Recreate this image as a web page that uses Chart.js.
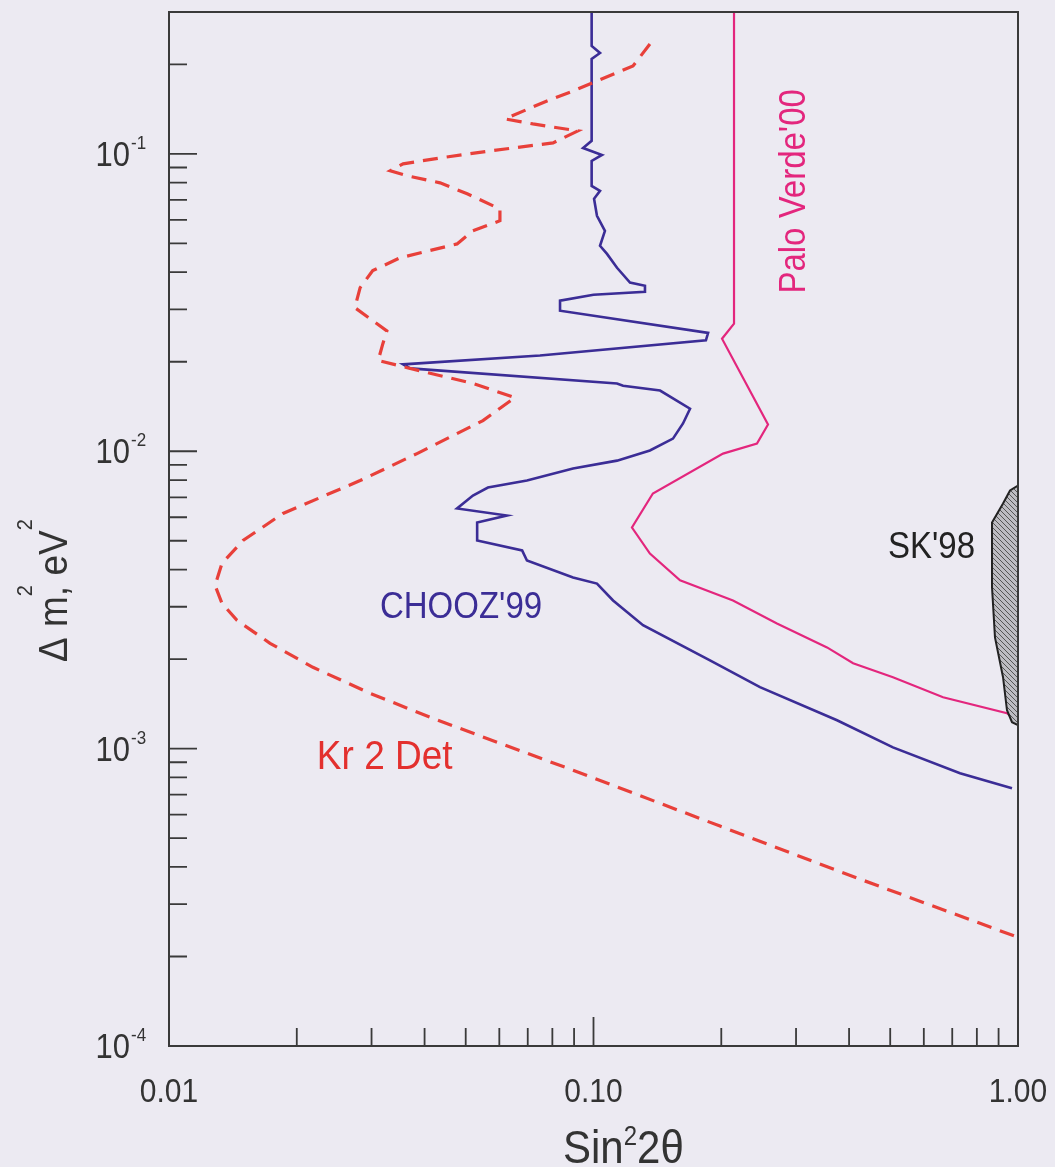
<!DOCTYPE html>
<html>
<head>
<meta charset="utf-8">
<script src="https://cdn.jsdelivr.net/npm/chart.js@4.4.0/dist/chart.umd.min.js"></script>
<style>
  html, body { margin: 0; padding: 0; background: #eceaf2; }
  #wrap { width: 1055px; height: 1167px; }
</style>
</head>
<body>
<div id="wrap"><canvas id="plot" width="1055" height="1167"></canvas></div>
<script>
// CHOOZ'99 exclusion contour (sin^2 2theta, dm^2)
const choozX = [0.099, 0.099, 0.1036, 0.099, 0.099, 0.0945, 0.1047, 0.099, 0.099, 0.1036,
  0.1003, 0.1019, 0.1064, 0.1036, 0.1076, 0.1136, 0.1219, 0.1322, 0.1322, 0.100,
  0.0834, 0.0834, 0.1862, 0.184, 0.0748, 0.0356, 0.037, 0.1136, 0.1174, 0.1435,
  0.1688, 0.1625, 0.1539, 0.1358, 0.1136, 0.0895, 0.0697, 0.0564, 0.052, 0.0477,
  0.0625, 0.0532, 0.0532, 0.0679, 0.0697, 0.0895, 0.1019, 0.1112, 0.1308, 0.1881,
  0.2467, 0.3747, 0.5075, 0.7302, 0.968];
const choozY = [0.3, 0.2307, 0.2184, 0.2085, 0.1106, 0.1047, 0.0992, 0.0947, 0.078, 0.0751,
  0.0706, 0.0619, 0.0551, 0.0491, 0.0461, 0.0414, 0.0369, 0.036, 0.0344, 0.0336,
  0.0321, 0.0297, 0.025, 0.0236, 0.021, 0.0196, 0.019, 0.0169, 0.0166, 0.016,
  0.0139, 0.0124, 0.01103, 0.01006, 0.0093, 0.00875, 0.00797, 0.00755, 0.0071, 0.00642,
  0.00608, 0.00576, 0.00501, 0.00464, 0.00429, 0.00376, 0.00359, 0.00315, 0.0026, 0.00198,
  0.00161, 0.001246, 0.00101, 0.000827, 0.000736];

// Palo Verde'00
const paloX = [0.2143, 0.2143, 0.2008, 0.2577, 0.2427, 0.2019, 0.138, 0.1232, 0.1358,
  0.1599, 0.2131, 0.2705, 0.3549, 0.4088, 0.5075, 0.666, 0.942, 1.0];
const paloY = [0.3, 0.02685, 0.0239, 0.0123, 0.01061, 0.00982, 0.00721, 0.00554, 0.00453,
  0.00368, 0.00315, 0.002637, 0.00219, 0.001936, 0.001738, 0.001488, 0.001315, 0.001227];

// Kr 2 Det sensitivity
const krX = [0.1358, 0.1239, 0.0895, 0.0777, 0.0619, 0.072, 0.0919, 0.0803, 0.0571, 0.0435,
  0.0356, 0.0332, 0.0364, 0.0435, 0.0504, 0.0602, 0.0602, 0.052, 0.0477, 0.035,
  0.0302, 0.0282, 0.0274, 0.0302, 0.0326, 0.0319, 0.0311, 0.0364, 0.052, 0.0653,
  0.0549, 0.0384, 0.0282, 0.01856, 0.01494, 0.01333, 0.01284, 0.01333, 0.01446, 0.0173,
  0.02183, 0.02975, 0.0412, 0.0593, 0.0857, 0.1986, 0.4245, 1.0];
const krY = [0.2342, 0.1975, 0.1627, 0.1507, 0.1311, 0.1261, 0.1195, 0.1089, 0.1023, 0.0969,
  0.0926, 0.0877, 0.0844, 0.0799, 0.0734, 0.0653, 0.0596, 0.0551, 0.0498, 0.0447,
  0.0405, 0.0355, 0.0304, 0.0275, 0.0254, 0.023, 0.0202, 0.0191, 0.0169, 0.01515,
  0.01268, 0.00982, 0.00797, 0.00618, 0.00501, 0.0042, 0.00354, 0.00308, 0.0027, 0.00226,
  0.001877, 0.001535, 0.001275, 0.00105, 0.000866, 0.000549, 0.000364, 0.000232];

// SK'98 allowed region (closed)
const skX = [1.0, 0.9577, 0.922, 0.8685, 0.8685, 0.8826, 0.922, 0.942, 0.968, 1.0, 1.0];
const skY = [0.00767, 0.00738, 0.00667, 0.00576, 0.00349, 0.002367, 0.001738, 0.001346, 0.001227, 0.001199, 0.00767];

// axes
const xMajor = [0.01, 0.1, 1];
const xMajorLabels = ['0.01', '0.10', '1.00'];
const yMajor = [1e-4, 1e-3, 1e-2, 1e-1];
const yMajorExp = ['-4', '-3', '-2', '-1'];

const FONT = '"Liberation Sans", Arial, Helvetica, sans-serif';
const STRETCH = 1.12;   // the scanned lettering is a bit taller than Arial
const INK = '#333333';
const BLUE = '#3b2d96';
const PINK = '#e3267d';
const RED = '#e8403a';

const pts = (xs, ys) => xs.map((x, i) => ({ x: x, y: ys[i] }));

function hatch() {
  const c = document.createElement('canvas');
  c.width = 5; c.height = 5;
  const g = c.getContext('2d');
  g.fillStyle = '#bdbcc2';
  g.fillRect(0, 0, 5, 5);
  g.strokeStyle = '#555';
  g.lineWidth = 1;
  g.beginPath();
  g.moveTo(-1, -1); g.lineTo(6, 6);
  g.stroke();
  return g.createPattern(c, 'repeat');
}

// text made of runs, every run: {t, size, rise, stay}
function rich(ctx, parts, x, y, color, rot, align) {
  ctx.save();
  ctx.translate(x, y);
  if (rot) ctx.rotate(rot);
  ctx.scale(1, STRETCH);
  ctx.fillStyle = color;
  ctx.textBaseline = 'alphabetic';
  ctx.textAlign = 'left';
  let total = 0;
  parts.forEach(p => {
    ctx.font = p.size + 'px ' + FONT;
    if (!p.stay) total += ctx.measureText(p.t).width;
  });
  let cx = align === 'right' ? -total : (align === 'center' ? -total / 2 : 0);
  parts.forEach(p => {
    ctx.font = p.size + 'px ' + FONT;
    ctx.fillText(p.t, cx, -(p.rise || 0) / STRETCH);
    if (!p.stay) cx += ctx.measureText(p.t).width;
  });
  ctx.restore();
}

const notes = [
  { text: "CHOOZ'99", x: 0.0314, y: 0.00276, size: 33, color: BLUE, rot: 0 },
  { text: 'Kr 2 Det', x: 0.0223, y: 0.000853, size: 37, color: '#e3302e', rot: 0 },
  { text: "SK'98", x: 0.494, y: 0.00436, size: 33, color: '#222222', rot: 0 },
  { text: "Palo Verde'00", x: 0.315, y: 0.0339, size: 33, color: PINK, rot: -Math.PI / 2 }
];

const frame = {
  id: 'frame',
  afterDraw(chart) {
    const ctx = chart.ctx;
    const a = chart.chartArea;
    const xs = chart.scales.x, ys = chart.scales.y;

    ctx.save();
    ctx.strokeStyle = '#3a3a3a';
    ctx.lineWidth = 2;
    ctx.strokeRect(a.left, a.top, a.right - a.left, a.bottom - a.top);

    // inward ticks, bottom and left only
    ctx.lineWidth = 1.8;
    ctx.beginPath();
    for (let d = 0.01; d < 1; d *= 10) {
      for (let k = 1; k <= 10; k++) {
        const v = d * k;
        if (v > 1.0001) continue;
        const px = xs.getPixelForValue(v);
        const len = (k === 1 || k === 10) ? 29 : 18;
        ctx.moveTo(px, a.bottom);
        ctx.lineTo(px, a.bottom - len);
      }
    }
    for (let d = 1e-4; d < 0.5; d *= 10) {
      for (let k = 1; k <= 9; k++) {
        const v = d * k;
        if (v > 0.3001) continue;
        const py = ys.getPixelForValue(v);
        const len = k === 1 ? 28 : 18;
        ctx.moveTo(a.left, py);
        ctx.lineTo(a.left + len, py);
      }
    }
    ctx.stroke();
    ctx.restore();

    // tick labels
    xMajor.forEach((v, i) => {
      rich(ctx, [{ t: xMajorLabels[i], size: 30 }], xs.getPixelForValue(v), a.bottom + 56, INK, 0, 'center');
    });
    yMajor.forEach((v, i) => {
      const py = ys.getPixelForValue(v);
      rich(ctx, [{ t: '10', size: 31 }], a.left - 39, py + 12, INK, 0, 'right');
      rich(ctx, [{ t: yMajorExp[i], size: 17 }], a.left - 38, py - 5, INK, 0, 'left');
    });

    // axis titles
    rich(ctx, [{ t: 'Sin', size: 42 }, { t: '2', size: 24, rise: 18 }, { t: '2\u03B8', size: 42 }],
      563, 1163, INK, 0, 'left');
    rich(ctx, [{ t: '\u0394 m', size: 37 }, { t: '2', size: 20, rise: 35, stay: true },
      { t: ', eV', size: 37 }, { t: '2', size: 20, rise: 35 }],
      67, 662, INK, -Math.PI / 2, 'left');

    // curve names
    notes.forEach(n => {
      rich(ctx, [{ t: n.text, size: n.size }], xs.getPixelForValue(n.x), ys.getPixelForValue(n.y), n.color, n.rot, 'left');
    });
  }
};

new Chart(document.getElementById('plot'), {
  type: 'scatter',
  data: {
    datasets: [
      {
        label: "SK'98",
        data: pts(skX, skY),
        showLine: true,
        borderColor: '#222',
        borderWidth: 2,
        backgroundColor: hatch(),
        fill: 'shape',
        pointRadius: 0
      },
      {
        label: 'Kr 2 Det',
        data: pts(krX, krY),
        showLine: true,
        borderColor: RED,
        borderWidth: 3.2,
        borderDash: [15, 9],
        pointRadius: 0
      },
      {
        label: "CHOOZ'99",
        data: pts(choozX, choozY),
        showLine: true,
        borderColor: BLUE,
        borderWidth: 2.6,
        pointRadius: 0
      },
      {
        label: "Palo Verde'00",
        data: pts(paloX, paloY),
        showLine: true,
        borderColor: PINK,
        borderWidth: 2.2,
        pointRadius: 0
      }
    ]
  },
  options: {
    responsive: false,
    devicePixelRatio: 1,
    animation: false,
    layout: { padding: { left: 169, right: 37, top: 12, bottom: 121 } },
    scales: {
      x: { type: 'logarithmic', min: 0.01, max: 1, display: false },
      y: { type: 'logarithmic', min: 1e-4, max: 0.3, display: false }
    },
    plugins: {
      legend: { display: false },
      tooltip: { enabled: false }
    }
  },
  plugins: [frame]
});
</script>
</body>
</html>
